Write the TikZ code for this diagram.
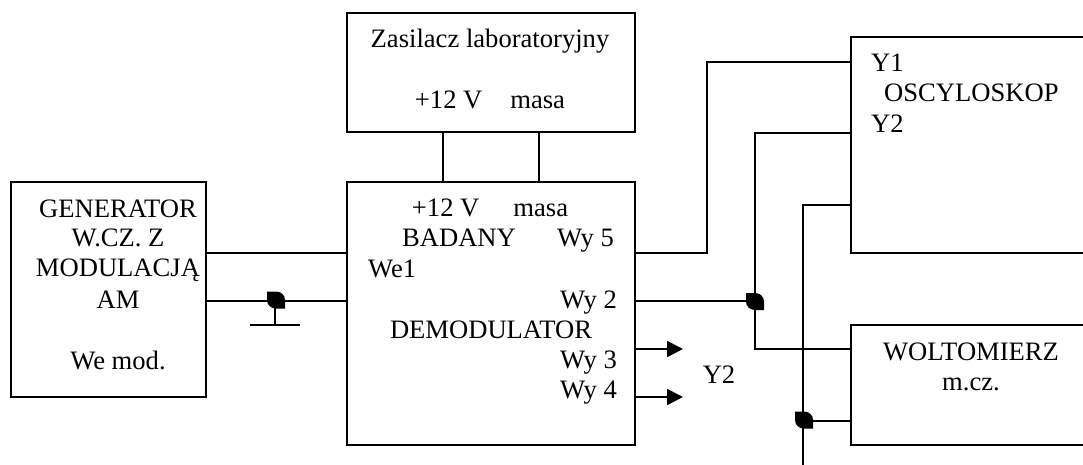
\documentclass[tikz,border=0pt]{standalone}
\usepackage{fontspec}
\setmainfont{Liberation Serif}
\usetikzlibrary{arrows.meta}
\tikzset{
  box/.style={draw=black,line width=1.8pt,fill=white,rectangle,inner sep=0pt,outer sep=0pt,anchor=north west},
  wire/.style={draw=black,line width=1.8pt},
  lbl/.style={inner sep=0pt,anchor=base,font=\fontsize{26.6}{31}\selectfont},
  arr/.style={wire,-{Triangle[length=16pt,width=16pt]}}
}
\newcommand{\leaf}[2]{\fill[black,shift={(#1,#2)}] (-9,-8.5) -- (0,-8.5) .. controls (5,-8.5) and (9,-5) .. (9,0) -- (9,8.5) -- (0,8.5) .. controls (-5,8.5) and (-9,5) .. (-9,0) -- cycle;}
\begin{document}
\begin{tikzpicture}[x=1pt,y=-1pt]
\useasboundingbox (0,0) rectangle (1083,465);
\clip (0,0) rectangle (1083,465);
\node[box,minimum width=195pt,minimum height=215pt] (gen) at (11,182) {};
\node[box,minimum width=288pt,minimum height=119pt] (zas) at (347,13) {};
\node[box,minimum width=288pt,minimum height=263pt] (dem) at (347,182) {};
\node[box,minimum width=250pt,minimum height=216pt] (osc) at (851,37) {};
\node[box,minimum width=250pt,minimum height=120pt] (wol) at (851,325) {};
% junction points
\coordinate (z1) at (443,132); \coordinate (d1) at (443,182);
\coordinate (z2) at (539,132); \coordinate (d2) at (539,182);
\coordinate (g1) at (206,253); \coordinate (e1) at (347,253);
\coordinate (g2) at (206,301); \coordinate (e2) at (347,301);
\coordinate (w5) at (635,253); \coordinate (y1) at (851,62);
\coordinate (w2) at (635,301); \coordinate (b1) at (755,301);
\coordinate (y2) at (851,133); \coordinate (v1) at (851,349);
\coordinate (y3) at (851,205); \coordinate (bot) at (803,465);
\coordinate (b2) at (803,421); \coordinate (v2) at (851,421);
\coordinate (b3) at (275,301); \coordinate (gnd) at (275,325);
\coordinate (gl) at (250,325); \coordinate (gr) at (300,325);
\coordinate (w3) at (635,349); \coordinate (a3) at (683,349);
\coordinate (w4) at (635,397); \coordinate (a4) at (683,397);
\draw[wire] (z1) -- (d1);
\draw[wire] (z2) -- (d2);
\draw[wire] (g1) -- (e1);
\draw[wire] (g2) -- (e2);
\draw[wire] (b3) -- (gnd);
\draw[wire] (gl) -- (gr);
\draw[wire] (w5) -- (707,253) -- (707,62) -- (y1);
\draw[wire] (w2) -- (b1);
\draw[wire] (y2) -- (755,133) -- (755,349) -- (v1);
\draw[wire] (y3) -- (803,205) -- (bot);
\draw[wire] (b2) -- (v2);
\draw[arr] (w3) -- (a3);
\draw[arr] (w4) -- (a4);
\leaf{276}{300}
\leaf{755}{301.5}
\leaf{804}{420}
% labels
\node[lbl] (t1) at (490,48) {Zasilacz laboratoryjny};
\node[lbl] (t2) at (490,109) {+12 V\hspace{28pt}masa};
\node[lbl] (t3) at (490,216) {+12 V\hspace{34pt}masa};
\node[lbl] (t4) at (118,217) {GENERATOR};
\node[lbl] (t5) at (118,246) {W.CZ. Z};
\node[lbl] (t6) at (118,276) {MODULACJĄ};
\node[lbl] (t7) at (118,308) {AM};
\node[lbl] (t8) at (118,369) {We mod.};
\node[lbl] (t9) at (459,246) {BADANY};
\node[lbl,anchor=base west] (t10) at (557,246) {Wy 5};
\node[lbl,anchor=base west] (t11) at (368,277) {We1};
\node[lbl,anchor=base west] (t12) at (560,308) {Wy 2};
\node[lbl] (t13) at (491,338) {DEMODULATOR};
\node[lbl,anchor=base west] (t14) at (560,368) {Wy 3};
\node[lbl,anchor=base west] (t15) at (560,398) {Wy 4};
\node[lbl] (t16) at (719,383) {Y2};
\node[lbl,anchor=base west] (t17) at (871,72) {Y1};
\node[lbl,anchor=base west] (t18) at (884,102) {OSCYLOSKOP};
\node[lbl,anchor=base west] (t19) at (871,133) {Y2};
\node[lbl] (t20) at (971,360) {WOLTOMIERZ};
\node[lbl] (t21) at (971,390) {m.cz.};
\end{tikzpicture}
\end{document}
